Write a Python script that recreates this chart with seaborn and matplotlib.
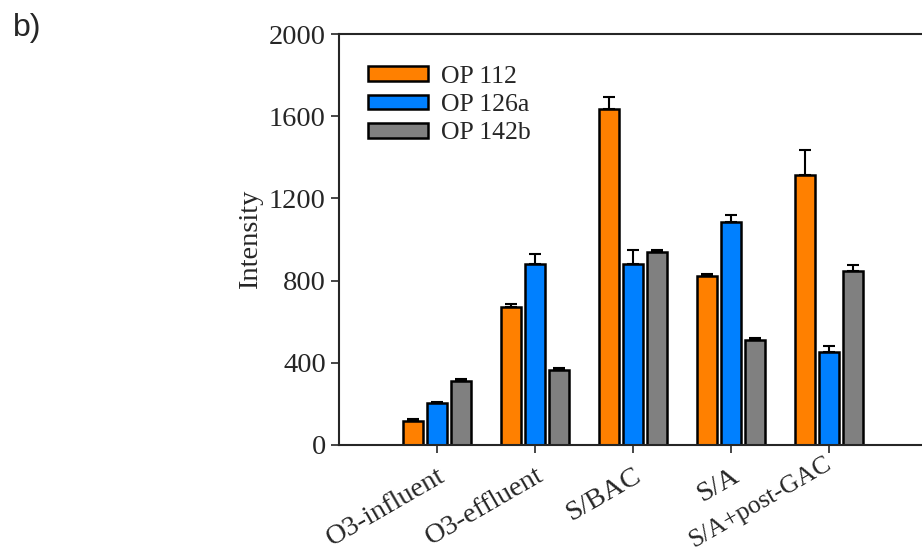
import matplotlib
matplotlib.use("Agg")
import matplotlib.pyplot as plt
import matplotlib.transforms as mtransforms
import numpy as np
import pandas as pd
import seaborn as sns

# values
stages = ["O3-influent", "O3-effluent", "S/BAC", "S/A", "S/A+post-GAC"]
compounds = ["OP 112", "OP 126a", "OP 142b"]
op112 = [118, 670, 1633, 824, 1312]
op126a = [204, 879, 881, 1087, 452]
op142b = [311, 366, 941, 509, 845]
op112_err = [10, 18, 60, 10, 123]
op126a_err = [4, 52, 66, 31, 31]
op142b_err = [9, 7, 6, 11, 31]
colors = ["#FF8000", "#0080FF", "#808080"]
yticks = [0, 400, 800, 1200, 1600, 2000]

df = pd.DataFrame({
    "stage": stages * 3,
    "compound": [c for c in compounds for _ in stages],
    "intensity": op112 + op126a + op142b,
    "err": op112_err + op126a_err + op142b_err,
})

sns.set_style("ticks")
plt.rcParams["font.family"] = ["Liberation Serif", "DejaVu Serif"]

fig = plt.figure(figsize=(9.22, 5.56), dpi=100)
ax = fig.add_axes([339 / 922, 1 - 445 / 556, (927 - 339) / 922, (445 - 34) / 556])

sns.barplot(data=df, x="stage", y="intensity", hue="compound", order=stages,
            hue_order=compounds, palette=colors, width=0.72, gap=0.15,
            edgecolor="black", linewidth=1.8, errorbar=None, saturation=1, ax=ax)

# upper error bars, positioned on the drawn bars
bars = [p for p in ax.patches if p.get_height() > 0][:len(df)]
xs = [b.get_x() + b.get_width() / 2 for b in bars]
ys = [b.get_height() for b in bars]
errs = df["err"].tolist()
ax.errorbar(xs, ys, yerr=[np.zeros(len(errs)), errs], fmt="none",
            ecolor="black", elinewidth=1.5, capsize=4.5, capthick=1.5, zorder=3)

ax.set_xlim(-1, 5)
ax.set_ylim(0, 2000)
ax.set_yticks(yticks)
ax.set_xlabel("")
ax.set_ylabel("Intensity", fontsize=20.5, labelpad=4)
ax.tick_params(axis="both", direction="out", length=6, width=1.2, labelsize=20.5)
ax.tick_params(axis="x", pad=7)
for s in ax.spines.values():
    s.set_linewidth(1.5)

plt.setp(ax.get_xticklabels(), rotation=30, ha="right", rotation_mode="anchor")
last = ax.get_xticklabels()[-1]
last.set_fontsize(18.5)
last.set_transform(last.get_transform() + mtransforms.ScaledTranslation(-5 / 100, 10 / 100, fig.dpi_scale_trans))

leg = ax.legend(loc="upper left", frameon=False, fontsize=18.5, handlelength=2.35,
                handleheight=0.5, labelspacing=0.25, handletextpad=0.5,
                borderaxespad=0.0, bbox_to_anchor=(0.031, 0.948))

fig.text(13 / 922, 1 - 13 / 556, "b)", family="Liberation Sans", fontsize=23, va="top", ha="left")

fig.savefig("out.png", dpi=100)
